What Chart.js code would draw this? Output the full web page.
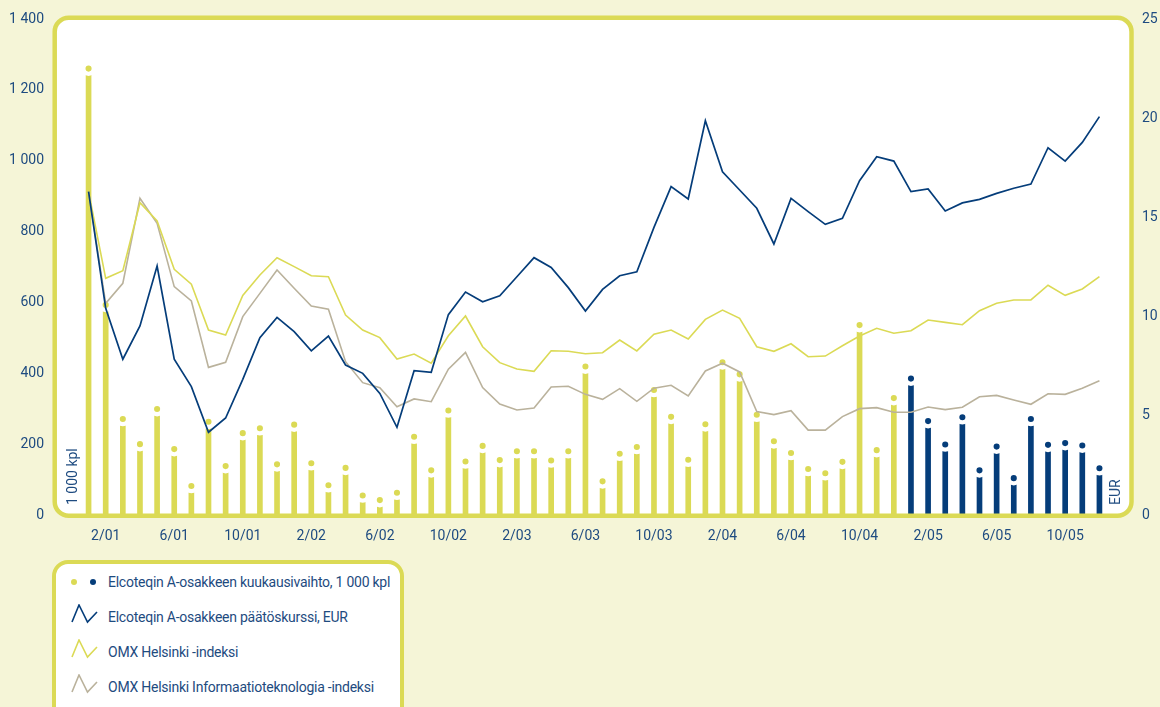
<!DOCTYPE html>
<html lang="fi">
<head>
<meta charset="UTF-8">
<title>Elcoteq A-osake 2001–2005</title>
<script src="https://cdn.jsdelivr.net/npm/chart.js"></script>
<style>
  body { margin: 0; background: #f5f5d7; }
  #wrap { position: relative; width: 1160px; height: 707px; overflow: hidden; }
  #legend {
    position: absolute; left: 52px; top: 560px; width: 344px; height: 170px;
    border: 4.5px solid #dbda55; border-radius: 16px; background: #fff;
    font-family: Roboto, sans-serif; font-size: 14px; color: #1e4b80;
    letter-spacing: -0.25px; white-space: nowrap;
  }
  .row { display: flex; align-items: center; height: 35px; }
  .icon { width: 52px; height: 35px; position: relative; flex: none; }
  .icon i { position: absolute; top: 14.5px; width: 6px; height: 6px; border-radius: 50%; }
  .icon svg { position: absolute; left: 15px; top: 5px; }
</style>
</head>
<body>
<div id="wrap">
  <canvas id="chart" width="1160" height="707"></canvas>
  <div id="legend">
    <div class="row"><span class="icon"><i style="left:14.5px;background:#dbda55"></i><i style="left:34px;background:#053d7a"></i></span>Elcoteqin A-osakkeen kuukausivaihto, 1 000 kpl</div>
    <div class="row"><span class="icon"><svg width="27" height="20"><polyline points="1,18 8,1 16.5,18 26,8" fill="none" stroke="#053d7a" stroke-width="1.6"/></svg></span>Elcoteqin A-osakkeen päätöskurssi, EUR</div>
    <div class="row"><span class="icon"><svg width="27" height="20"><polyline points="1,18 8,1 16.5,18 26,8" fill="none" stroke="#dbda55" stroke-width="1.6"/></svg></span>OMX Helsinki -indeksi</div>
    <div class="row"><span class="icon"><svg width="27" height="20"><polyline points="1,18 8,1 16.5,18 26,8" fill="none" stroke="#bab29c" stroke-width="1.6"/></svg></span>OMX Helsinki Informaatioteknologia -indeksi</div>
  </div>
</div>

<script>
// months Jan 2001 .. Dec 2005
const months = [
  '1/01','2/01','3/01','4/01','5/01','6/01','7/01','8/01','9/01','10/01','11/01','12/01',
  '1/02','2/02','3/02','4/02','5/02','6/02','7/02','8/02','9/02','10/02','11/02','12/02',
  '1/03','2/03','3/03','4/03','5/03','6/03','7/03','8/03','9/03','10/03','11/03','12/03',
  '1/04','2/04','3/04','4/04','5/04','6/04','7/04','8/04','9/04','10/04','11/04','12/04',
  '1/05','2/05','3/05','4/05','5/05','6/05','7/05','8/05','9/05','10/05','11/05','12/05'
];

// monthly turnover, 1 000 kpl
const volume = [
  1260, 593, 271, 200, 299, 186, 82, 263, 138, 231, 245, 143,
  255, 146, 84, 133, 55, 42, 63, 221, 126, 295, 151, 195,
  155, 180, 180, 154, 180, 419, 95, 173, 192, 353, 277, 156,
  256, 431, 397, 283, 208, 175, 130, 118, 150, 536, 183, 330,
  385, 265, 199, 276, 126, 193, 104, 271, 198, 203, 196, 132
];

// closing price, EUR
const price = [
  16.3, 10.42, 7.85, 9.53, 12.55, 7.85, 6.47, 4.17, 4.89, 6.84, 8.94, 9.96,
  9.24, 8.27, 9.02, 7.56, 7.14, 6.13, 4.42, 7.27, 7.19, 10.1, 11.24, 10.75,
  11.05, 12.01, 12.97, 12.48, 11.46, 10.28, 11.37, 12.06, 12.26, 14.5, 16.55, 15.93,
  19.87, 17.3, 16.38, 15.46, 13.66, 15.96, 15.29, 14.65, 14.95, 16.85, 18.06, 17.84,
  16.3, 16.43, 15.32, 15.73, 15.91, 16.21, 16.47, 16.68, 18.51, 17.84, 18.78, 20.08
];

// OMX Helsinki, scaled to the share price
const omxh = [
  16.3, 11.93, 12.31, 15.74, 14.82, 12.38, 11.63, 9.32, 9.07, 11.07, 12.1, 12.97,
  12.52, 12.06, 12.01, 10.08, 9.32, 8.94, 7.86, 8.11, 7.65, 9.03, 10.03, 8.48,
  7.68, 7.36, 7.24, 8.28, 8.25, 8.13, 8.18, 8.82, 8.27, 9.11, 9.32, 8.87,
  9.86, 10.33, 9.91, 8.48, 8.25, 8.63, 7.98, 8.01, 8.53, 9.02, 9.41, 9.16,
  9.29, 9.83, 9.71, 9.59, 10.3, 10.67, 10.84, 10.84, 11.58, 11.07, 11.39, 12.01
];

// OMX Helsinki IT, scaled to the share price
const omxIt = [
  16.3, 10.67, 11.68, 15.96, 14.7, 11.51, 10.79, 7.44, 7.7, 10.0, 11.17, 12.35,
  11.43, 10.53, 10.37, 7.73, 6.67, 6.42, 5.46, 5.85, 5.71, 7.35, 8.2, 6.42,
  5.59, 5.29, 5.39, 6.45, 6.49, 6.08, 5.83, 6.37, 5.73, 6.39, 6.54, 6.0,
  7.26, 7.65, 7.21, 5.21, 5.06, 5.26, 4.28, 4.28, 4.96, 5.36, 5.41, 5.18,
  5.18, 5.44, 5.31, 5.43, 5.96, 6.03, 5.8, 5.58, 6.11, 6.08, 6.39, 6.77
];

const leftTicks = [0, 200, 400, 600, 800, 1000, 1200, 1400];
const rightTicks = [0, 5, 10, 15, 20, 25];

const YELLOW = '#dbda55';
const BLUE = '#053d7a';
const GREY = '#bab29c';
const TEXT = '#1e4b80';
const FONT = 'Roboto, sans-serif';

const barColors = months.map(m => m.endsWith('/05') ? BLUE : YELLOW);

function spaced(v) {
  return String(v).replace(/\B(?=(\d{3})+(?!\d))/g, ' ');
}

function roundRect(ctx, x, y, w, h, r) {
  ctx.beginPath();
  ctx.moveTo(x + r, y);
  ctx.arcTo(x + w, y, x + w, y + h, r);
  ctx.arcTo(x + w, y + h, x, y + h, r);
  ctx.arcTo(x, y + h, x, y, r);
  ctx.arcTo(x, y, x + w, y, r);
  ctx.closePath();
}

// keep tick label padding from pushing the plot area down
function fixWidth(w) {
  return s => { s.width = w; s.paddingTop = 0; s.paddingBottom = 0; };
}

// white rounded panel behind the plot and the yellow frame around it
const framePlugin = {
  id: 'frame',
  beforeDatasetsDraw(chart) {
    const a = chart.chartArea, ctx = chart.ctx;
    ctx.save();
    roundRect(ctx, a.left - 25.3, a.top - 1.3, a.width + 48.8, a.height + 2, 14);
    ctx.fillStyle = '#fff';
    ctx.fill();
    ctx.restore();
  },
  afterDatasetsDraw(chart) {
    const a = chart.chartArea, ctx = chart.ctx;
    ctx.save();
    roundRect(ctx, a.left - 25.3, a.top - 1.3, a.width + 48.8, a.height + 2, 14);
    ctx.lineWidth = 4.5;
    ctx.strokeStyle = YELLOW;
    ctx.stroke();

    ctx.fillStyle = TEXT;
    ctx.font = '14px ' + FONT;
    ctx.textAlign = 'left';
    ctx.textBaseline = 'middle';
    ctx.translate(a.left - 7, a.bottom - 10);
    ctx.rotate(-Math.PI / 2);
    ctx.fillText('1 000 kpl', 0, 0);
    ctx.restore();

    ctx.save();
    ctx.fillStyle = TEXT;
    ctx.font = '14px ' + FONT;
    ctx.textAlign = 'left';
    ctx.textBaseline = 'middle';
    ctx.translate(a.right + 8, a.bottom - 10);
    ctx.rotate(-Math.PI / 2);
    ctx.fillText('EUR', 0, 0);
    ctx.restore();
  }
};

new Chart(document.getElementById('chart'), {
  data: {
    labels: months,
    datasets: [
      {
        type: 'line',
        label: 'Elcoteqin A-osakkeen päätöskurssi, EUR',
        data: price,
        yAxisID: 'y1',
        borderColor: BLUE,
        borderWidth: 1.7,
        pointRadius: 0,
        tension: 0,
        order: 1
      },
      {
        type: 'line',
        label: 'OMX Helsinki -indeksi',
        data: omxh,
        yAxisID: 'y1',
        borderColor: YELLOW,
        borderWidth: 1.6,
        pointRadius: 0,
        tension: 0,
        order: 2
      },
      {
        type: 'line',
        label: 'OMX Helsinki Informaatioteknologia -indeksi',
        data: omxIt,
        yAxisID: 'y1',
        borderColor: GREY,
        borderWidth: 1.6,
        pointRadius: 0,
        tension: 0,
        order: 2
      },
      {
        // dot on top of each bar, white ring gives the gap
        type: 'line',
        label: 'kuukausivaihto',
        data: volume,
        yAxisID: 'y',
        showLine: false,
        pointRadius: 5.2,
        pointBorderWidth: 4.3,
        pointBackgroundColor: barColors,
        pointBorderColor: '#fff',
        order: 3
      },
      {
        type: 'bar',
        label: 'Elcoteqin A-osakkeen kuukausivaihto, 1 000 kpl',
        data: volume,
        yAxisID: 'y',
        backgroundColor: barColors,
        barThickness: 5,
        order: 4
      }
    ]
  },
  options: {
    responsive: false,
    devicePixelRatio: 1,
    animation: false,
    events: [],
    layout: { padding: { left: 0, right: 0, top: 19, bottom: 152 } },
    plugins: {
      legend: { display: false },
      tooltip: { enabled: false }
    },
    scales: {
      x: {
        type: 'category',
        offset: true,
        grid: { display: false, drawTicks: false },
        border: { display: false },
        ticks: {
          autoSkip: false,
          maxRotation: 0,
          padding: 13,
          color: TEXT,
          font: { family: FONT, size: 14 },
          callback: (v, i) => (i % 4 === 1 ? months[i] : '')
        },
        afterFit: s => { s.height = 40; }
      },
      y: {
        position: 'left',
        min: 0,
        max: 1400,
        grid: { display: false, drawTicks: false },
        border: { display: false },
        afterBuildTicks: s => { s.ticks = leftTicks.map(v => ({ value: v })); },
        ticks: {
          padding: 36,
          color: TEXT,
          font: { family: FONT, size: 14 },
          callback: v => spaced(v)
        },
        afterFit: fixWidth(80)
      },
      y1: {
        position: 'right',
        min: 0,
        max: 25,
        grid: { display: false, drawTicks: false },
        border: { display: false },
        afterBuildTicks: s => { s.ticks = rightTicks.map(v => ({ value: v })); },
        ticks: {
          padding: 34,
          color: TEXT,
          font: { family: FONT, size: 14 }
        },
        afterFit: fixWidth(52)
      }
    }
  },
  plugins: [framePlugin]
});
</script>
</body>
</html>
